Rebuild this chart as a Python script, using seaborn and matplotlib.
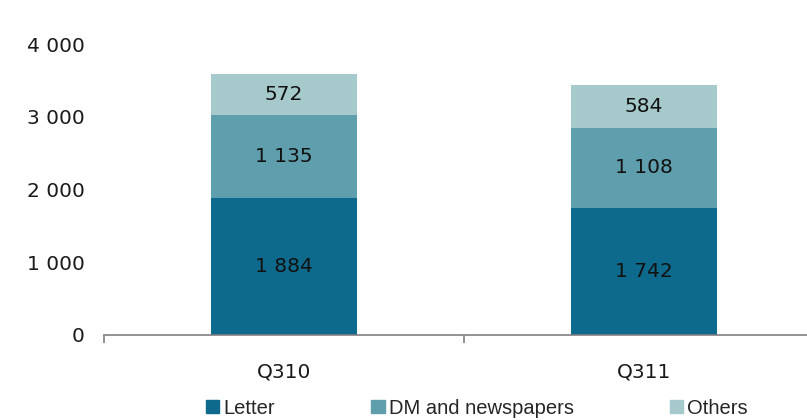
import matplotlib
matplotlib.use("Agg")
import matplotlib.pyplot as plt
import matplotlib.patches as mpatches
from matplotlib.ticker import FuncFormatter
import seaborn as sns
import pandas as pd
import numpy as np

quarters = ["Q310", "Q311"]
series_names = ["Letter", "DM and newspapers", "Others"]
letter = [1884, 1742]
dm_news = [1135, 1108]
others = [572, 584]
colors = ["#0E6A8C", "#5F9EAD", "#A6CACC"]

sns.set_theme(style="white")
plt.rcParams["font.family"] = ["DejaVu Sans"]

fig = plt.figure(figsize=(8.07, 4.20), dpi=100)
ax = fig.add_axes([104/807, 1-335/420, 720/807, 291/420])

layers = [letter, dm_news, others]
cum = np.cumsum(np.array(layers), axis=0)
# draw from tallest cumulative to smallest so bars stack visually
for i in reversed(range(len(layers))):
    df = pd.DataFrame({"q": quarters, "v": cum[i]})
    sns.barplot(data=df, x="q", y="v", color=colors[i], width=0.405,
                saturation=1, ax=ax, edgecolor="none", linewidth=0)

FS = 14.5
# data labels
for j, q in enumerate(quarters):
    base = 0
    for i, vals in enumerate(layers):
        v = vals[j]
        ax.text(j, base + v/2, f"{v:,}".replace(",", " "), ha="center", va="center",
                fontsize=FS, color="#111111")
        base += v

ax.set_xlim(-0.5, 1.5)
ax.set_ylim(0, 4000)
ax.set_yticks([0, 1000, 2000, 3000, 4000])
ax.yaxis.set_major_formatter(FuncFormatter(lambda v, p: f"{int(v):,}".replace(",", " ")))
ax.set_xlabel("")
ax.set_ylabel("")
for s in ["top", "right", "left"]:
    ax.spines[s].set_visible(False)
ax.spines["bottom"].set_color("#808080")
ax.spines["bottom"].set_linewidth(1.2)
ax.tick_params(axis="y", length=0, labelsize=FS, pad=14, colors="#1a1a1a")
ax.set_xticks([0, 1])
ax.set_xticklabels(quarters)
ax.tick_params(axis="x", which="major", length=0, labelsize=FS, pad=20, colors="#1a1a1a")
ax.set_xticks([-0.5, 0.5, 1.5], minor=True)
ax.tick_params(axis="x", which="minor", bottom=True, length=6, width=1.2,
               color="#808080", direction="out")
ax.grid(False)

handles = [mpatches.Patch(color=c, label=n) for c, n in zip(colors, series_names)]
fig.legend(handles=handles, loc="center left", bbox_to_anchor=(206/807, 1-408/420), ncol=3,
           frameon=False, handlelength=0.65, handleheight=0.65, handletextpad=0.2,
           columnspacing=4.8, borderaxespad=0, borderpad=0,
           prop={"family": ["Liberation Sans", "DejaVu Sans"], "size": 14.5})

fig.savefig("out.png", dpi=100)
